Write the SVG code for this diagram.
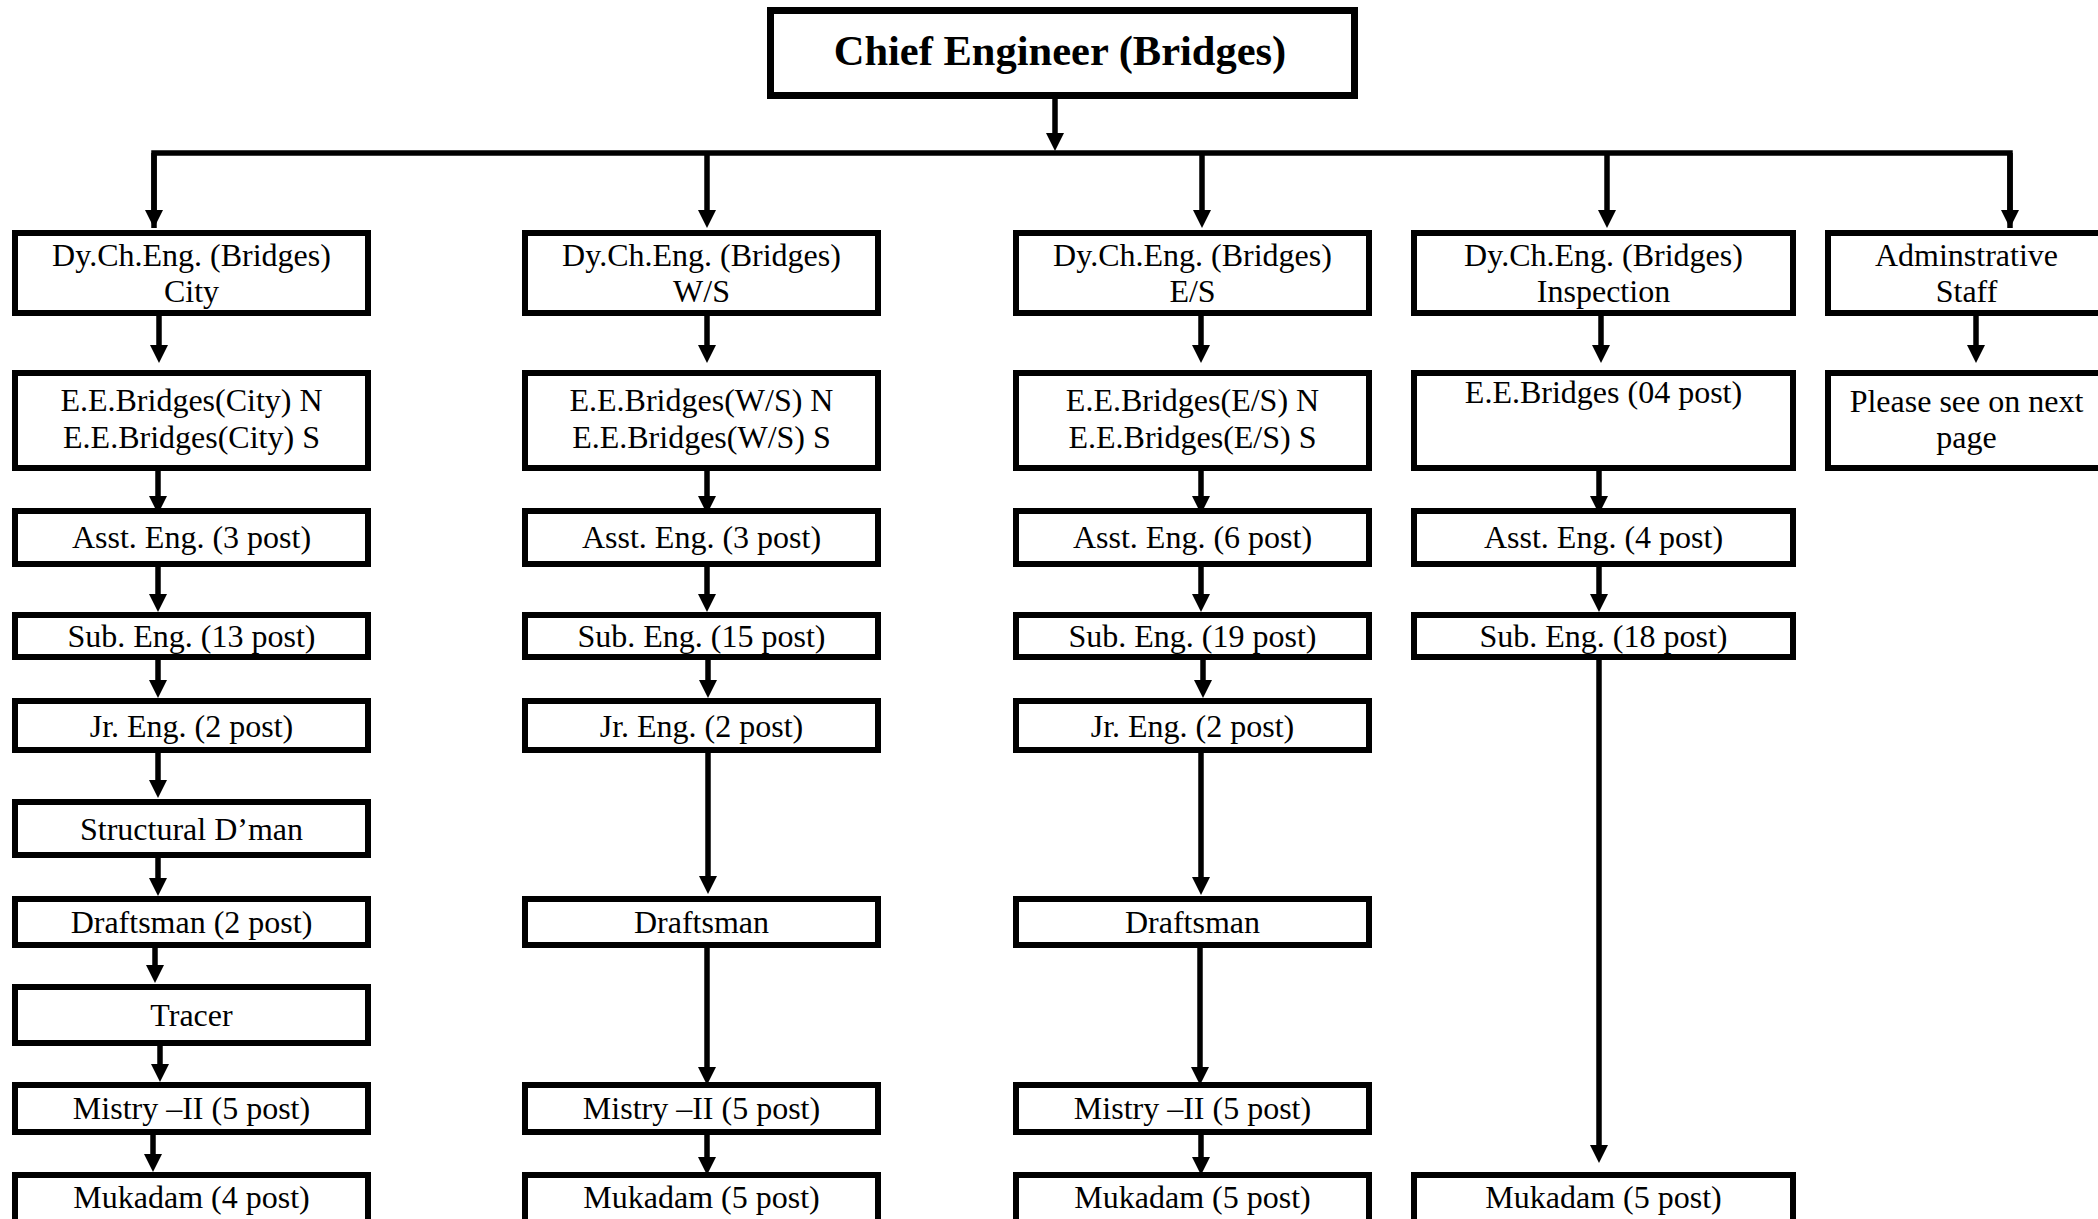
<svg xmlns="http://www.w3.org/2000/svg" width="2098" height="1219" viewBox="0 0 2098 1219">
<style>
.box{fill:#fff;stroke:#000;stroke-width:6}
.chief{fill:#fff;stroke:#000;stroke-width:7}
.t{font-family:"Liberation Serif","Times New Roman",serif;font-size:32px;fill:#000;text-anchor:middle}
.tb{font-family:"Liberation Serif","Times New Roman",serif;font-size:42.5px;font-weight:bold;fill:#000;text-anchor:middle}
.c{stroke:#000;stroke-width:5.5;fill:none;marker-end:url(#ah)}
.bus{stroke:#000;stroke-width:5.5;fill:none}
</style>
<defs>
<marker id="ah" markerUnits="userSpaceOnUse" markerWidth="18" markerHeight="18" refX="8" refY="9" orient="auto">
<path d="M0,0 L18,9 L0,18 Z" fill="#000"/>
</marker>
</defs>
<rect width="2098" height="1219" fill="#fff"/>

<g id="connectors">
<line class="c" x1="1055" y1="99" x2="1055" y2="141"/>
<polyline class="bus" points="154,228 154,153 2010,153 2010,228"/>
<line class="c" x1="154" y1="153" x2="154" y2="218"/>
<line class="c" x1="707" y1="153" x2="707" y2="218"/>
<line class="c" x1="1202" y1="153" x2="1202" y2="218"/>
<line class="c" x1="1607" y1="153" x2="1607" y2="218"/>
<line class="c" x1="2010" y1="153" x2="2010" y2="218"/>

<line class="c" x1="159" y1="316" x2="159" y2="353"/>
<line class="c" x1="707" y1="316" x2="707" y2="353"/>
<line class="c" x1="1201" y1="316" x2="1201" y2="353"/>
<line class="c" x1="1601" y1="316" x2="1601" y2="353"/>
<line class="c" x1="1976" y1="316" x2="1976" y2="353"/>

<line class="c" x1="158" y1="471" x2="158" y2="504"/>
<line class="c" x1="707" y1="471" x2="707" y2="504"/>
<line class="c" x1="1201" y1="471" x2="1201" y2="504"/>
<line class="c" x1="1599" y1="471" x2="1599" y2="504"/>

<line class="c" x1="158" y1="567" x2="158" y2="602"/>
<line class="c" x1="707" y1="567" x2="707" y2="602"/>
<line class="c" x1="1201" y1="567" x2="1201" y2="602"/>
<line class="c" x1="1599" y1="567" x2="1599" y2="602"/>

<line class="c" x1="158" y1="660" x2="158" y2="688"/>
<line class="c" x1="708" y1="650" x2="708" y2="688"/>
<line class="c" x1="1203" y1="652" x2="1203" y2="688"/>

<line class="c" x1="158" y1="753" x2="158" y2="788"/>
<line class="c" x1="708" y1="743" x2="708" y2="884"/>
<line class="c" x1="1201" y1="753" x2="1201" y2="885"/>

<line class="c" x1="158" y1="858" x2="158" y2="886"/>
<line class="c" x1="155" y1="948" x2="155" y2="973"/>
<line class="c" x1="160" y1="1046" x2="160" y2="1072"/>
<line class="c" x1="153" y1="1135" x2="153" y2="1162"/>

<line class="c" x1="707" y1="948" x2="707" y2="1075"/>
<line class="c" x1="1200" y1="948" x2="1200" y2="1075"/>
<line class="c" x1="707" y1="1135" x2="707" y2="1165"/>
<line class="c" x1="1201" y1="1135" x2="1201" y2="1165"/>

<line class="c" x1="1599" y1="660" x2="1599" y2="1153"/>
</g>

<g id="chief">
<rect class="chief" x="770.5" y="10.5" width="584" height="85"/>
<text class="tb" x="1060" y="65">Chief Engineer (Bridges)</text>
</g>

<!-- Column 1: City -->
<g id="dy-city"><rect class="box" x="15" y="233" width="353" height="80"/>
<text class="t" x="191.5" y="266">Dy.Ch.Eng. (Bridges)</text><text class="t" x="191.5" y="302">City</text></g>
<g id="ee-city"><rect class="box" x="15" y="373" width="353" height="95"/>
<text class="t" x="191.5" y="411">E.E.Bridges(City) N</text><text class="t" x="191.5" y="448">E.E.Bridges(City) S</text></g>
<g id="ae-city"><rect class="box" x="15" y="511" width="353" height="53"/><text class="t" x="191.5" y="548">Asst. Eng. (3 post)</text></g>
<g id="se-city"><rect class="box" x="15" y="615" width="353" height="42"/><text class="t" x="191.5" y="647">Sub. Eng. (13 post)</text></g>
<g id="je-city"><rect class="box" x="15" y="701" width="353" height="49"/><text class="t" x="191.5" y="737">Jr. Eng. (2 post)</text></g>
<g id="sd-city"><rect class="box" x="15" y="802" width="353" height="53"/><text class="t" x="191.5" y="840">Structural D’man</text></g>
<g id="dm-city"><rect class="box" x="15" y="899" width="353" height="46"/><text class="t" x="191.5" y="933">Draftsman (2 post)</text></g>
<g id="tr-city"><rect class="box" x="15" y="987" width="353" height="56"/><text class="t" x="191.5" y="1026">Tracer</text></g>
<g id="mi-city"><rect class="box" x="15" y="1085" width="353" height="47"/><text class="t" x="191.5" y="1119">Mistry –II (5 post)</text></g>
<g id="mu-city"><rect class="box" x="15" y="1175" width="353" height="52"/><text class="t" x="191.5" y="1208">Mukadam (4 post)</text></g>

<!-- Column 2: W/S -->
<g id="dy-ws"><rect class="box" x="525" y="233" width="353" height="80"/>
<text class="t" x="701.5" y="266">Dy.Ch.Eng. (Bridges)</text><text class="t" x="701.5" y="302">W/S</text></g>
<g id="ee-ws"><rect class="box" x="525" y="373" width="353" height="95"/>
<text class="t" x="701.5" y="411">E.E.Bridges(W/S) N</text><text class="t" x="701.5" y="448">E.E.Bridges(W/S) S</text></g>
<g id="ae-ws"><rect class="box" x="525" y="511" width="353" height="53"/><text class="t" x="701.5" y="548">Asst. Eng. (3 post)</text></g>
<g id="se-ws"><rect class="box" x="525" y="615" width="353" height="42"/><text class="t" x="701.5" y="647">Sub. Eng. (15 post)</text></g>
<g id="je-ws"><rect class="box" x="525" y="701" width="353" height="49"/><text class="t" x="701.5" y="737">Jr. Eng. (2 post)</text></g>
<g id="dm-ws"><rect class="box" x="525" y="899" width="353" height="46"/><text class="t" x="701.5" y="933">Draftsman</text></g>
<g id="mi-ws"><rect class="box" x="525" y="1085" width="353" height="47"/><text class="t" x="701.5" y="1119">Mistry –II (5 post)</text></g>
<g id="mu-ws"><rect class="box" x="525" y="1175" width="353" height="52"/><text class="t" x="701.5" y="1208">Mukadam (5 post)</text></g>

<!-- Column 3: E/S -->
<g id="dy-es"><rect class="box" x="1016" y="233" width="353" height="80"/>
<text class="t" x="1192.5" y="266">Dy.Ch.Eng. (Bridges)</text><text class="t" x="1192.5" y="302">E/S</text></g>
<g id="ee-es"><rect class="box" x="1016" y="373" width="353" height="95"/>
<text class="t" x="1192.5" y="411">E.E.Bridges(E/S) N</text><text class="t" x="1192.5" y="448">E.E.Bridges(E/S) S</text></g>
<g id="ae-es"><rect class="box" x="1016" y="511" width="353" height="53"/><text class="t" x="1192.5" y="548">Asst. Eng. (6 post)</text></g>
<g id="se-es"><rect class="box" x="1016" y="615" width="353" height="42"/><text class="t" x="1192.5" y="647">Sub. Eng. (19 post)</text></g>
<g id="je-es"><rect class="box" x="1016" y="701" width="353" height="49"/><text class="t" x="1192.5" y="737">Jr. Eng. (2 post)</text></g>
<g id="dm-es"><rect class="box" x="1016" y="899" width="353" height="46"/><text class="t" x="1192.5" y="933">Draftsman</text></g>
<g id="mi-es"><rect class="box" x="1016" y="1085" width="353" height="47"/><text class="t" x="1192.5" y="1119">Mistry –II (5 post)</text></g>
<g id="mu-es"><rect class="box" x="1016" y="1175" width="353" height="52"/><text class="t" x="1192.5" y="1208">Mukadam (5 post)</text></g>

<!-- Column 4: Inspection -->
<g id="dy-insp"><rect class="box" x="1414" y="233" width="379" height="80"/>
<text class="t" x="1603.5" y="266">Dy.Ch.Eng. (Bridges)</text><text class="t" x="1603.5" y="302">Inspection</text></g>
<g id="ee-insp"><rect class="box" x="1414" y="373" width="379" height="95"/>
<text class="t" x="1603.5" y="403">E.E.Bridges (04 post)</text></g>
<g id="ae-insp"><rect class="box" x="1414" y="511" width="379" height="53"/><text class="t" x="1603.5" y="548">Asst. Eng. (4 post)</text></g>
<g id="se-insp"><rect class="box" x="1414" y="615" width="379" height="42"/><text class="t" x="1603.5" y="647">Sub. Eng. (18 post)</text></g>
<g id="mu-insp"><rect class="box" x="1414" y="1175" width="379" height="52"/><text class="t" x="1603.5" y="1208">Mukadam (5 post)</text></g>

<!-- Column 5: Administrative -->
<g id="admin"><rect class="box" x="1828" y="233" width="277" height="80"/>
<text class="t" x="1966.5" y="266">Adminstrative</text><text class="t" x="1966.5" y="302">Staff</text></g>
<g id="next-page"><rect class="box" x="1828" y="373" width="277" height="95"/>
<text class="t" x="1966.5" y="412">Please see on next</text><text class="t" x="1966.5" y="448">page</text></g>
</svg>
